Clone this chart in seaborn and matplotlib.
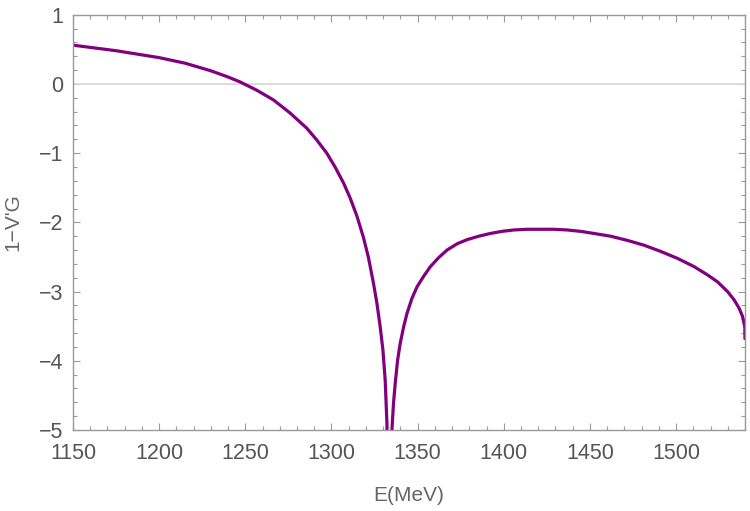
import numpy as np
import pandas as pd
import seaborn as sns
import matplotlib.pyplot as plt
from matplotlib.ticker import MultipleLocator

# Values
left_E = [1150, 1175, 1200, 1215, 1230, 1240, 1246.9, 1256.6, 1266.3, 1276.0,
          1285.7, 1291.5, 1297.3, 1302.1, 1307.0, 1310.9, 1314.8, 1318.6,
          1321.5, 1324.4, 1326.4, 1328.3, 1329.9, 1331.2, 1332.2, 1332.6]
left_y = [0.56, 0.48, 0.38, 0.30, 0.19, 0.10, 0.03, -0.09, -0.23, -0.42,
          -0.64, -0.81, -1.00, -1.20, -1.43, -1.65, -1.91, -2.22,
          -2.51, -2.88, -3.17, -3.51, -3.85, -4.28, -4.90, -5.5]

right_E = [1334.8, 1335.1, 1336.0, 1337.0, 1338.4, 1339.9, 1341.9, 1343.8, 1346.7,
           1349.7, 1353.5, 1357.4, 1362.2, 1367.1, 1372.9, 1378.7, 1385.5,
           1392.3, 1399.0, 1405.8, 1413.5, 1421.3, 1429.0, 1436.9, 1444.6,
           1452.3, 1462.0, 1471.7, 1481.4, 1491.1, 1500.8, 1510.5, 1518.3,
           1524.1, 1529.9, 1533.7, 1536.6, 1538.6, 1539.9, 1540]
right_y = [-5.5, -5.0, -4.62, -4.33, -3.99, -3.75, -3.51, -3.32, -3.10,
           -2.93, -2.78, -2.64, -2.51, -2.40, -2.31, -2.25, -2.20,
           -2.16, -2.13, -2.11, -2.10, -2.10, -2.10, -2.11, -2.13,
           -2.16, -2.20, -2.26, -2.33, -2.42, -2.52, -2.64, -2.76,
           -2.86, -3.00, -3.12, -3.24, -3.36, -3.51, -3.68]

left = pd.DataFrame({"E": left_E, "val": left_y})
right = pd.DataFrame({"E": right_E, "val": right_y})

sns.set_style("ticks")
plt.rcParams["font.family"] = ["Liberation Sans", "DejaVu Sans"]

fig = plt.figure(figsize=(7.5, 5.11), dpi=100)
ax = fig.add_axes([0.0973, 0.1585, 0.896, 0.8127])

ax.axhline(0, color="#d9d9d9", lw=1.3, zorder=1)

purple = "#800080"
sns.lineplot(data=left, x="E", y="val", sort=False, color=purple, lw=2.3, ax=ax)
sns.lineplot(data=right, x="E", y="val", sort=False, color=purple, lw=2.3, ax=ax)

ax.set_xlim(1150, 1540)
ax.set_ylim(-5, 1)

ax.xaxis.set_major_locator(MultipleLocator(50))
ax.xaxis.set_minor_locator(MultipleLocator(10))
ax.yaxis.set_major_locator(MultipleLocator(1))
ax.yaxis.set_minor_locator(MultipleLocator(0.2))

frame = "#999999"
for s in ax.spines.values():
    s.set_color(frame)
    s.set_linewidth(1.0)

ax.tick_params(which="both", direction="in", top=True, right=True,
               color=frame, width=0.8, labelcolor="#555555", labelsize=15.5)
ax.tick_params(which="major", length=5)
ax.tick_params(which="minor", length=3)
ax.tick_params(axis="x", which="major", pad=9.5)
ax.tick_params(axis="y", which="major", pad=7)

ax.set_xlabel("E(MeV)", fontsize=15, color="#666666")
ax.set_ylabel("1\u2212V'G", fontsize=15, color="#666666")
ax.xaxis.set_label_coords(0.5, -0.135)
ax.yaxis.set_label_coords(-0.075, 0.5)

fig.savefig("out.png", dpi=100)
